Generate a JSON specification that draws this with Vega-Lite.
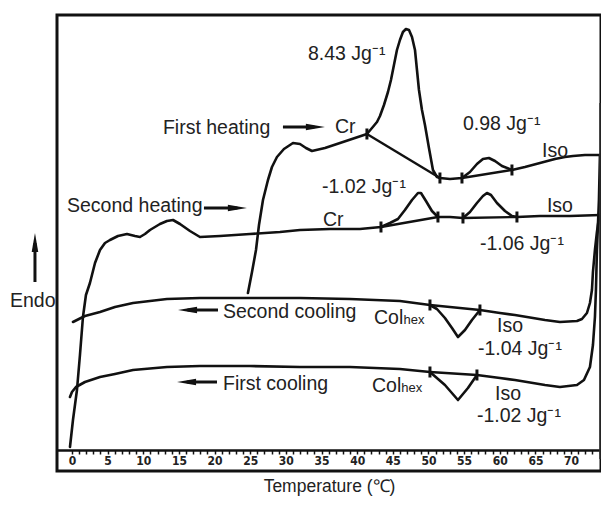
{
  "$schema": "https://vega.github.io/schema/vega-lite/v6.json",
  "width": 544,
  "height": 456,
  "autosize": "none",
  "padding": {"left": 57, "top": 15, "right": 0, "bottom": 34},
  "background": "white",
  "config": {"view": {"stroke": "#111", "strokeWidth": 3}},
  "datasets": {
    "curves": [
      {"s": "First heating", "T": 24.68, "y": 178}, {"s": "First heating", "T": 25.25, "y": 199}, {"s": "First heating", "T": 25.81, "y": 221}, {"s": "First heating", "T": 26.23, "y": 246}, {"s": "First heating", "T": 26.79, "y": 271}, {"s": "First heating", "T": 27.49, "y": 291}, {"s": "First heating", "T": 28.05, "y": 304}, {"s": "First heating", "T": 28.75, "y": 314}, {"s": "First heating", "T": 29.73, "y": 322}, {"s": "First heating", "T": 31.0, "y": 328}, {"s": "First heating", "T": 31.98, "y": 327}, {"s": "First heating", "T": 32.82, "y": 323}, {"s": "First heating", "T": 33.66, "y": 320}, {"s": "First heating", "T": 35.48, "y": 323}, {"s": "First heating", "T": 37.59, "y": 328}, {"s": "First heating", "T": 39.69, "y": 333}, {"s": "First heating", "T": 41.37, "y": 337}, {"s": "First heating", "T": 42.08, "y": 343}, {"s": "First heating", "T": 42.78, "y": 349}, {"s": "First heating", "T": 43.2, "y": 355}, {"s": "First heating", "T": 43.76, "y": 366}, {"s": "First heating", "T": 44.32, "y": 379}, {"s": "First heating", "T": 44.74, "y": 391}, {"s": "First heating", "T": 45.16, "y": 406}, {"s": "First heating", "T": 45.58, "y": 421}, {"s": "First heating", "T": 46.0, "y": 431}, {"s": "First heating", "T": 46.42, "y": 439}, {"s": "First heating", "T": 46.84, "y": 442}, {"s": "First heating", "T": 47.27, "y": 441}, {"s": "First heating", "T": 47.69, "y": 434}, {"s": "First heating", "T": 48.11, "y": 421}, {"s": "First heating", "T": 48.39, "y": 401}, {"s": "First heating", "T": 48.67, "y": 381}, {"s": "First heating", "T": 49.09, "y": 361}, {"s": "First heating", "T": 49.51, "y": 346}, {"s": "First heating", "T": 50.07, "y": 323}, {"s": "First heating", "T": 50.63, "y": 301}, {"s": "First heating", "T": 51.19, "y": 294}, {"s": "First heating", "T": 51.61, "y": 293}, {"s": "First heating", "T": 53.02, "y": 292}, {"s": "First heating", "T": 54.7, "y": 293}, {"s": "First heating", "T": 55.82, "y": 299}, {"s": "First heating", "T": 56.8, "y": 307}, {"s": "First heating", "T": 57.64, "y": 312}, {"s": "First heating", "T": 58.48, "y": 313}, {"s": "First heating", "T": 59.33, "y": 310}, {"s": "First heating", "T": 60.31, "y": 305}, {"s": "First heating", "T": 61.71, "y": 301}, {"s": "First heating", "T": 63.53, "y": 304}, {"s": "First heating", "T": 65.64, "y": 308}, {"s": "First heating", "T": 67.74, "y": 312}, {"s": "First heating", "T": 69.14, "y": 314}, {"s": "First heating", "T": 70.27, "y": 315}, {"s": "First heating", "T": 71.95, "y": 316}, {"s": "First heating", "T": 74.1, "y": 316},

      {"s": "First cooling", "T": 74.05, "y": 316}, {"s": "First cooling", "T": 73.91, "y": 271}, {"s": "First cooling", "T": 73.63, "y": 221}, {"s": "First cooling", "T": 73.49, "y": 181}, {"s": "First cooling", "T": 73.35, "y": 154}, {"s": "First cooling", "T": 73.07, "y": 126}, {"s": "First cooling", "T": 72.65, "y": 104}, {"s": "First cooling", "T": 71.81, "y": 91}, {"s": "First cooling", "T": 70.83, "y": 86}, {"s": "First cooling", "T": 68.44, "y": 84}, {"s": "First cooling", "T": 66.34, "y": 86}, {"s": "First cooling", "T": 64.66, "y": 88}, {"s": "First cooling", "T": 62.13, "y": 91}, {"s": "First cooling", "T": 60.03, "y": 93}, {"s": "First cooling", "T": 56.8, "y": 96}, {"s": "First cooling", "T": 55.54, "y": 83}, {"s": "First cooling", "T": 54.14, "y": 71}, {"s": "First cooling", "T": 52.31, "y": 86}, {"s": "First cooling", "T": 50.21, "y": 99}, {"s": "First cooling", "T": 46.0, "y": 102}, {"s": "First cooling", "T": 38.99, "y": 104}, {"s": "First cooling", "T": 31.98, "y": 104}, {"s": "First cooling", "T": 24.96, "y": 105}, {"s": "First cooling", "T": 17.95, "y": 105}, {"s": "First cooling", "T": 13.32, "y": 104}, {"s": "First cooling", "T": 8.56, "y": 101}, {"s": "First cooling", "T": 6.03, "y": 97}, {"s": "First cooling", "T": 3.93, "y": 94}, {"s": "First cooling", "T": 1.82, "y": 89}, {"s": "First cooling", "T": 0.56, "y": 84}, {"s": "First cooling", "T": 0.0, "y": 79}, {"s": "First cooling", "T": -0.28, "y": 74},

      {"s": "Second heating", "T": -0.28, "y": 24}, {"s": "Second heating", "T": 0.14, "y": 51}, {"s": "Second heating", "T": 0.7, "y": 81}, {"s": "Second heating", "T": 1.12, "y": 116}, {"s": "Second heating", "T": 1.54, "y": 154}, {"s": "Second heating", "T": 1.96, "y": 176}, {"s": "Second heating", "T": 2.52, "y": 188}, {"s": "Second heating", "T": 3.23, "y": 208}, {"s": "Second heating", "T": 3.93, "y": 221}, {"s": "Second heating", "T": 4.63, "y": 228}, {"s": "Second heating", "T": 5.33, "y": 231}, {"s": "Second heating", "T": 6.45, "y": 235}, {"s": "Second heating", "T": 7.71, "y": 237}, {"s": "Second heating", "T": 8.84, "y": 235}, {"s": "Second heating", "T": 9.54, "y": 234}, {"s": "Second heating", "T": 10.24, "y": 237}, {"s": "Second heating", "T": 10.94, "y": 241}, {"s": "Second heating", "T": 12.34, "y": 247}, {"s": "Second heating", "T": 13.32, "y": 250}, {"s": "Second heating", "T": 14.17, "y": 251}, {"s": "Second heating", "T": 15.15, "y": 247}, {"s": "Second heating", "T": 16.55, "y": 240}, {"s": "Second heating", "T": 17.95, "y": 234}, {"s": "Second heating", "T": 20.76, "y": 235}, {"s": "Second heating", "T": 24.96, "y": 237}, {"s": "Second heating", "T": 29.17, "y": 239}, {"s": "Second heating", "T": 31.98, "y": 241}, {"s": "Second heating", "T": 36.19, "y": 242}, {"s": "Second heating", "T": 40.39, "y": 242}, {"s": "Second heating", "T": 43.34, "y": 244}, {"s": "Second heating", "T": 44.6, "y": 248}, {"s": "Second heating", "T": 45.72, "y": 252}, {"s": "Second heating", "T": 46.7, "y": 261}, {"s": "Second heating", "T": 47.69, "y": 271}, {"s": "Second heating", "T": 48.53, "y": 278}, {"s": "Second heating", "T": 48.95, "y": 278}, {"s": "Second heating", "T": 49.65, "y": 270}, {"s": "Second heating", "T": 50.49, "y": 260}, {"s": "Second heating", "T": 51.33, "y": 254}, {"s": "Second heating", "T": 53.02, "y": 254}, {"s": "Second heating", "T": 54.84, "y": 253}, {"s": "Second heating", "T": 55.82, "y": 259}, {"s": "Second heating", "T": 56.8, "y": 268}, {"s": "Second heating", "T": 57.64, "y": 275}, {"s": "Second heating", "T": 58.2, "y": 278}, {"s": "Second heating", "T": 58.77, "y": 276}, {"s": "Second heating", "T": 59.61, "y": 268}, {"s": "Second heating", "T": 60.73, "y": 260}, {"s": "Second heating", "T": 61.71, "y": 255}, {"s": "Second heating", "T": 62.41, "y": 254}, {"s": "Second heating", "T": 65.64, "y": 255}, {"s": "Second heating", "T": 69.85, "y": 255}, {"s": "Second heating", "T": 74.1, "y": 256},

      {"s": "Second cooling", "T": 74.0, "y": 256}, {"s": "Second cooling", "T": 73.91, "y": 253}, {"s": "Second cooling", "T": 73.63, "y": 239}, {"s": "Second cooling", "T": 73.35, "y": 221}, {"s": "Second cooling", "T": 73.07, "y": 199}, {"s": "Second cooling", "T": 72.93, "y": 181}, {"s": "Second cooling", "T": 72.65, "y": 168}, {"s": "Second cooling", "T": 72.23, "y": 158}, {"s": "Second cooling", "T": 71.53, "y": 152}, {"s": "Second cooling", "T": 70.83, "y": 150}, {"s": "Second cooling", "T": 68.44, "y": 149}, {"s": "Second cooling", "T": 66.34, "y": 151}, {"s": "Second cooling", "T": 64.66, "y": 153}, {"s": "Second cooling", "T": 62.13, "y": 156}, {"s": "Second cooling", "T": 60.03, "y": 158}, {"s": "Second cooling", "T": 57.22, "y": 161}, {"s": "Second cooling", "T": 56.1, "y": 151}, {"s": "Second cooling", "T": 55.12, "y": 141}, {"s": "Second cooling", "T": 54.14, "y": 134}, {"s": "Second cooling", "T": 53.3, "y": 143}, {"s": "Second cooling", "T": 52.31, "y": 153}, {"s": "Second cooling", "T": 51.19, "y": 162}, {"s": "Second cooling", "T": 50.21, "y": 166}, {"s": "Second cooling", "T": 46.0, "y": 170}, {"s": "Second cooling", "T": 38.99, "y": 172}, {"s": "Second cooling", "T": 31.98, "y": 173}, {"s": "Second cooling", "T": 24.96, "y": 173}, {"s": "Second cooling", "T": 17.95, "y": 173}, {"s": "Second cooling", "T": 13.32, "y": 172}, {"s": "Second cooling", "T": 8.56, "y": 168}, {"s": "Second cooling", "T": 6.03, "y": 164}, {"s": "Second cooling", "T": 3.93, "y": 159}, {"s": "Second cooling", "T": 1.82, "y": 155}, {"s": "Second cooling", "T": 0.14, "y": 149}
    ],
    "baselines": [
      {"b": "b1", "T": 41.37, "y": 337}, {"b": "b1", "T": 51.61, "y": 293},
      {"b": "b2", "T": 54.7, "y": 293}, {"b": "b2", "T": 61.71, "y": 301},
      {"b": "b3", "T": 43.34, "y": 244}, {"b": "b3", "T": 51.33, "y": 254},
      {"b": "b4", "T": 54.84, "y": 253}, {"b": "b4", "T": 62.41, "y": 254},
      {"b": "b5", "T": 50.21, "y": 166}, {"b": "b5", "T": 57.22, "y": 161},
      {"b": "b6", "T": 50.21, "y": 99}, {"b": "b6", "T": 56.8, "y": 96}
    ],
    "edge": [
      {"T": 74.05, "y": 368}, {"T": 74.05, "y": 12}
    ],
    "marks": [
      {"T": 41.37, "y": 337}, {"T": 51.61, "y": 293}, {"T": 54.7, "y": 293}, {"T": 61.71, "y": 301},
      {"T": 43.34, "y": 244}, {"T": 51.33, "y": 254}, {"T": 54.84, "y": 253}, {"T": 62.41, "y": 254},
      {"T": 50.21, "y": 166}, {"T": 57.22, "y": 161}, {"T": 50.21, "y": 99}, {"T": 56.8, "y": 96}
    ],
    "arrows": [
      {"a": "a1", "T": 29.59, "y": 344}, {"a": "a1", "T": 34.0, "y": 344},
      {"a": "a2", "T": 18.51, "y": 263}, {"a": "a2", "T": 23.2, "y": 263},
      {"a": "a3", "T": 20.48, "y": 161}, {"a": "a3", "T": 16.2, "y": 161},
      {"a": "a4", "T": 20.34, "y": 89}, {"a": "a4", "T": 16.1, "y": 89},
      {"a": "a5", "T": -5.19, "y": 189}, {"a": "a5", "T": -5.19, "y": 228}
    ],
    "heads": [
      {"dir": "right", "T": 35.48, "y": 344},
      {"dir": "right", "T": 24.54, "y": 263},
      {"dir": "left", "T": 14.87, "y": 161},
      {"dir": "left", "T": 14.73, "y": 89},
      {"dir": "up", "T": -5.19, "y": 238}
    ],
    "labels": [
      {"text": "First heating", "T": 12.76, "y": 337},
      {"text": "Cr", "T": 36.89, "y": 338},
      {"text": "8.43 Jg⁻¹", "T": 33.1, "y": 411},
      {"text": "0.98 Jg⁻¹", "T": 54.84, "y": 341},
      {"text": "Iso", "T": 65.92, "y": 314},
      {"text": "-1.02 Jg⁻¹", "T": 35.06, "y": 278},
      {"text": "Second heating", "T": -0.7, "y": 259},
      {"text": "Cr", "T": 35.2, "y": 245},
      {"text": "Iso", "T": 66.62, "y": 259},
      {"text": "-1.06 Jg⁻¹", "T": 57.22, "y": 221},
      {"text": "Second cooling", "T": 21.18, "y": 153},
      {"text": "Col", "T": 42.36, "y": 147},
      {"text": "Iso", "T": 59.61, "y": 139},
      {"text": "-1.04 Jg⁻¹", "T": 56.94, "y": 116},
      {"text": "First cooling", "T": 21.18, "y": 81},
      {"text": "Col", "T": 42.08, "y": 79},
      {"text": "Iso", "T": 59.33, "y": 71},
      {"text": "-1.02 Jg⁻¹", "T": 56.8, "y": 49},
      {"text": "Endo", "T": -8.7, "y": 164}
    ],
    "subs": [
      {"text": "hex", "T": 46.5, "y": 147},
      {"text": "hex", "T": 46.2, "y": 79}
    ]
  },
  "encoding": {
    "x": {
      "field": "T",
      "type": "quantitative",
      "scale": {"domain": [-2.1, 74.2], "nice": false, "zero": false},
      "axis": {
        "orient": "bottom",
        "offset": -21,
        "values": [0,1,2,3,4,5,6,7,8,9,10,11,12,13,14,15,16,17,18,19,20,21,22,23,24,25,26,27,28,29,30,31,32,33,34,35,36,37,38,39,40,41,42,43,44,45,46,47,48,49,50,51,52,53,54,55,56,57,58,59,60,61,62,63,64,65,66,67,68,69,70,71,72,73,74],
        "labelExpr": "datum.value % 5 === 0 ? datum.label : ''",
        "labelOverlap": false,
        "labelFlush": false,
        "grid": false,
        "domainColor": "#111",
        "domainWidth": 2.5,
        "tickColor": "#111",
        "tickWidth": 1.5,
        "tickSize": 4,
        "labelPadding": 1,
        "labelFont": "DejaVu Sans Condensed, sans-serif",
        "labelFontSize": 12,
        "labelFontWeight": "bold",
        "labelColor": "#222",
        "title": "Temperature (℃)",
        "titleFont": "Liberation Sans, Arial, sans-serif",
        "titleFontSize": 17.5,
        "titleFontWeight": "normal",
        "titleColor": "#222",
        "titlePadding": 11
      }
    },
    "y": {
      "field": "y",
      "type": "quantitative",
      "scale": {"domain": [0, 456], "nice": false, "zero": false},
      "axis": null
    }
  },
  "layer": [
    {
      "data": {"name": "curves"},
      "mark": {"type": "line", "color": "#111", "strokeWidth": 2.6, "strokeJoin": "round", "strokeCap": "round"},
      "encoding": {"detail": {"field": "s"}, "order": {"value": null}}
    },
    {
      "data": {"name": "baselines"},
      "mark": {"type": "line", "color": "#111", "strokeWidth": 2.4},
      "encoding": {"detail": {"field": "b"}, "order": {"value": null}}
    },
    {
      "data": {"name": "edge"},
      "mark": {"type": "line", "color": "#333", "strokeWidth": 1.3},
      "encoding": {"order": {"value": null}}
    },
    {
      "data": {"name": "arrows"},
      "mark": {"type": "line", "color": "#111", "strokeWidth": 3},
      "encoding": {"detail": {"field": "a"}, "order": {"value": null}}
    },
    {
      "data": {"name": "heads"},
      "mark": {"type": "point", "filled": true, "color": "#111", "opacity": 1, "size": 300},
      "encoding": {
        "shape": {
          "field": "dir",
          "type": "nominal",
          "scale": {"domain": ["right", "left", "up"], "range": ["M0,0L-2.2,-0.38L-2.2,0.38Z", "M0,0L2.2,-0.38L2.2,0.38Z", "M0,0L-0.38,2.2L0.38,2.2Z"]},
          "legend": null
        }
      }
    },
    {
      "data": {"name": "marks"},
      "mark": {"type": "tick", "orient": "vertical", "color": "#111", "size": 11, "thickness": 3, "opacity": 1}
    },
    {
      "data": {"name": "labels"},
      "mark": {"type": "text", "align": "left", "baseline": "alphabetic", "font": "Liberation Sans, Arial, sans-serif", "fontSize": 19.5, "color": "#222"},
      "encoding": {"text": {"field": "text"}}
    },
    {
      "data": {"name": "subs"},
      "mark": {"type": "text", "align": "left", "baseline": "alphabetic", "font": "Liberation Sans, Arial, sans-serif", "fontSize": 13, "color": "#222"},
      "encoding": {"text": {"field": "text"}}
    }
  ]
}
